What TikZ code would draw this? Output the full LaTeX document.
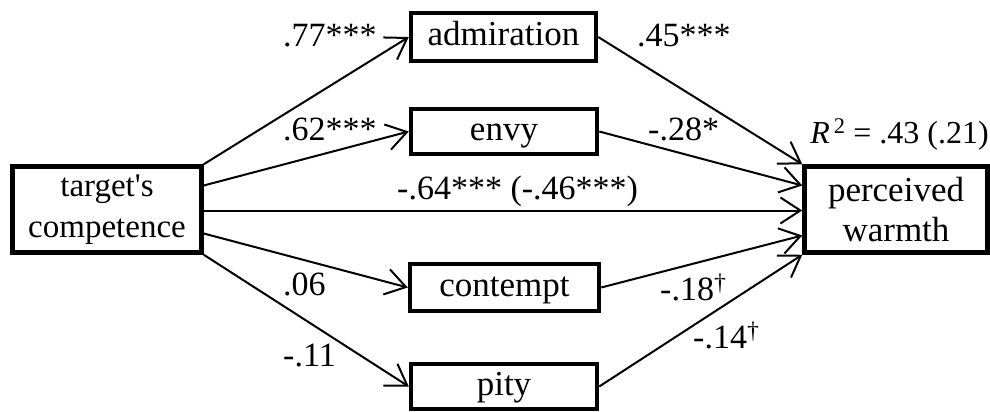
\documentclass[tikz,border=0pt]{standalone}
\usepackage{fontspec}
\setmainfont{Liberation Serif}
\usetikzlibrary{arrows.meta}
\begin{document}
\begin{tikzpicture}[x=1pt,y=-1pt,
  box/.style={draw, line width=4.5pt, inner sep=0pt, align=center,
    font=\fontsize{35}{40}\selectfont},
  onebox/.style={box, text height=26pt, text depth=9pt},
  effect/.style={line width=2pt,
    -{Straight Barb[length=20pt,width=26pt]}},
  coef/.style={anchor=base west, inner sep=0pt,
    font=\fontsize{34}{39}\selectfont}]
\useasboundingbox (0,0) rectangle (990,412);

% predictor and outcome
\node[box, font=\fontsize{33}{41}\selectfont, minimum width=189pt, minimum height=86pt]
  (tc) at (107,209.5) {target\textquotesingle s\\competence};
\node[box, minimum width=183pt, minimum height=86pt] (pw) at (896,209.5)
  {perceived\\warmth};

% mediators
\node[onebox, minimum width=185pt, minimum height=48pt] (adm) at (503.5,37) {admiration};
\node[onebox, minimum width=186pt, minimum height=45pt] (env) at (504,131.5) {envy};
\node[onebox, minimum width=189pt, minimum height=47pt] (con) at (504.5,287.5) {contempt};
\node[onebox, minimum width=186pt, minimum height=45pt] (pit) at (504,386.5) {pity};

% paths from competence to the mediators
\draw[effect] (tc.north east) -- (adm.west);
\draw[effect] ([yshift=24pt]tc.east) -- (env.west);
\draw[effect] ([yshift=-1pt]tc.east) -- ([yshift=-1pt]pw.west);
\draw[effect] ([yshift=-24pt]tc.east) -- (con.west);
\draw[effect] (tc.south east) -- (pit.west);

% paths from the mediators to warmth
\draw[effect] (adm.east) -- (pw.north west);
\draw[effect] (env.east) -- ([yshift=24pt]pw.west);
\draw[effect] (con.east) -- ([yshift=-26pt]pw.west);
\draw[effect] (pit.east) -- (pw.south west);

% coefficients
\node[coef] (c1) at (283,47) {.77***};
\node[coef] (c2) at (637,47) {.45***};
\node[coef] (c3) at (283,140) {.62***};
\node[coef] (c4) at (648,140) {-.28*};
\node[coef] (c5) at (397,199) {-.64*** (-.46***)};
\node[coef] (c6) at (283,295) {.06};
\node[coef] (c7) at (283,366) {-.11};
\node[coef] (c8) at (660,300) {-.18\textsuperscript{†}};
\node[coef] (c9) at (693,348) {-.14\textsuperscript{†}};
\node[coef, anchor=base east, font=\fontsize{32}{38}\selectfont] (r2) at (989,143)
  {\textit{R}\textsuperscript{\,2} = .43 (.21)};
\end{tikzpicture}
\end{document}
